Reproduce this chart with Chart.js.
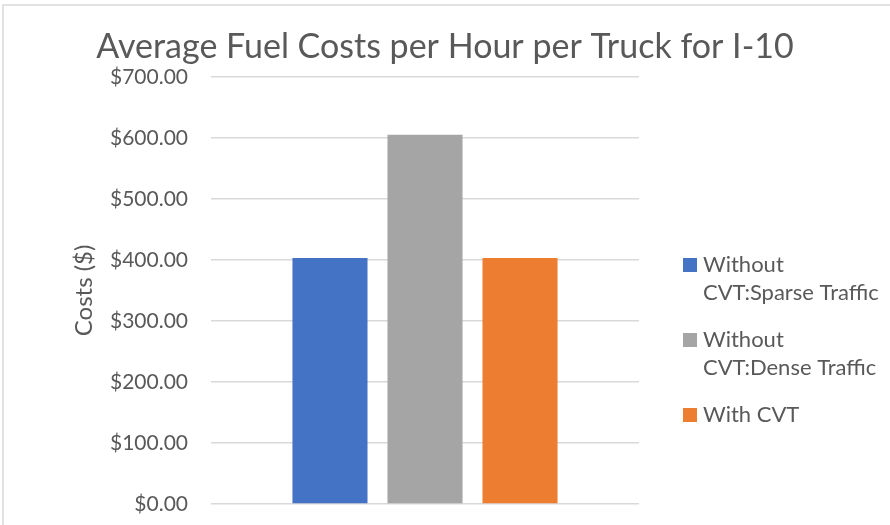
<!DOCTYPE html>
<html>
<head>
<meta charset="utf-8">
<script src="https://cdn.jsdelivr.net/npm/chart.js@4/dist/chart.umd.min.js"></script>
<style>
  html, body { margin: 0; padding: 0; background: #ffffff; }
  #wrap { width: 890px; height: 525px; position: relative; }
</style>
</head>
<body>
<div id="wrap"><canvas id="c" width="890" height="525"></canvas></div>
<script>
const chartTitle = "Average Fuel Costs per Hour per Truck for I-10";
const yAxisTitle = "Costs ($)";
const categories = [""];
const seriesNames = ["Without CVT:Sparse Traffic", "Without CVT:Dense Traffic", "With CVT"];
const sparseValues = [403];
const denseValues = [605];
const withCvtValues = [403];
const seriesColors = ["#4472C4", "#A5A5A5", "#ED7D31"];
const yTickMin = 0, yTickMax = 700, yTickStep = 100;

const FONT = "Lato";
const TEXT = "#595959";

const frameAndLegend = {
  id: "frameAndLegend",
  beforeDraw(chart) {
    const ctx = chart.ctx;
    ctx.save();
    ctx.fillStyle = "#ffffff";
    ctx.fillRect(0, 0, chart.width, chart.height);
    ctx.strokeStyle = "#d9d9d9";
    ctx.lineWidth = 1.5;
    ctx.strokeRect(3, 5, chart.width + 20, chart.height + 20);
    ctx.restore();
  },
  afterDraw(chart) {
    const ctx = chart.ctx;
    ctx.save();
    ctx.font = "22px " + FONT;
    ctx.textBaseline = "alphabetic";
    ctx.textAlign = "left";
    const boxX = 683, textX = 703, box = 14, lineH = 28, gap = 19, maxW = 180;
    let y = 258;
    chart.data.datasets.forEach(ds => {
      let lines = [ds.label];
      if (ctx.measureText(ds.label).width > maxW) {
        const i = ds.label.indexOf(" ");
        lines = [ds.label.slice(0, i), ds.label.slice(i + 1)];
      }
      ctx.fillStyle = ds.backgroundColor;
      ctx.fillRect(boxX, y, box, box);
      ctx.fillStyle = TEXT;
      lines.forEach((ln, i) => ctx.fillText(ln, textX, y + box + i * lineH));
      y += lines.length * lineH + gap;
    });
    ctx.restore();
  }
};

new Chart(document.getElementById("c"), {
  type: "bar",
  data: {
    labels: categories,
    datasets: [
      { label: seriesNames[0], data: sparseValues, backgroundColor: seriesColors[0] },
      { label: seriesNames[1], data: denseValues, backgroundColor: seriesColors[1] },
      { label: seriesNames[2], data: withCvtValues, backgroundColor: seriesColors[2] }
    ]
  },
  options: {
    responsive: false,
    animation: false,
    devicePixelRatio: 1,
    layout: { padding: { left: 0, right: 0, top: 5, bottom: 21 } },
    datasets: { bar: { categoryPercentage: 0.666, barPercentage: 0.79 } },
    plugins: {
      legend: { display: false },
      tooltip: { enabled: false },
      title: {
        display: true,
        text: chartTitle,
        color: TEXT,
        font: { family: FONT, size: 34, weight: "normal", lineHeight: 1.2 },
        padding: { top: 22, bottom: 9 }
      }
    },
    scales: {
      x: {
        display: false,
        grid: { display: false }
      },
      y: {
        min: yTickMin, max: yTickMax,
        afterFit(scale) { scale.width = 211; scale.paddingBottom = 0; scale.paddingTop = 0; },
        ticks: {
          stepSize: yTickStep,
          color: TEXT,
          padding: 23,
          font: { family: FONT, size: 21 },
          callback: v => "$" + Number(v).toFixed(2)
        },
        grid: { color: "#d9d9d9", lineWidth: 1.5, drawTicks: false },
        border: { display: false },
        title: {
          display: true,
          text: yAxisTitle,
          color: TEXT,
          font: { family: FONT, size: 24, lineHeight: 1.2 },
          padding: { top: 70, bottom: 0 }
        }
      },
      yRight: {
        type: "linear",
        position: "right",
        display: true,
        afterFit(scale) { scale.width = 251; scale.paddingBottom = 0; scale.paddingTop = 0; },
        ticks: { display: false },
        grid: { display: false, drawTicks: false },
        border: { display: false }
      }
    }
  },
  plugins: [frameAndLegend]
});
</script>
</body>
</html>
